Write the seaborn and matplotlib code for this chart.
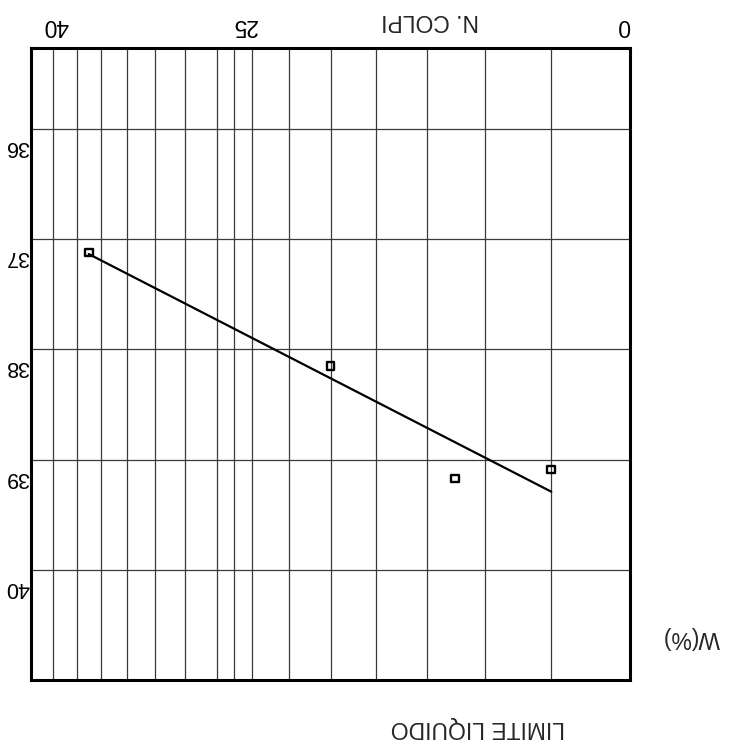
import numpy as np
import matplotlib
matplotlib.use('Agg')
import matplotlib.pyplot as plt
import matplotlib.transforms as mtransforms
from matplotlib.ticker import NullFormatter
import seaborn as sns

# prova limite liquido (Casagrande) - immagine capovolta come nell'originale
n_colpi = [35, 20, 15, 12]
w_perc = [37.12, 38.15, 39.17, 39.09]

# griglia ed etichette
x_grid = [12, 14, 16, 18, 20, 22, 24, 25, 26, 28, 30, 32, 34, 36, 38]
y_grid = [36, 37, 38, 39, 40]
x_tick_pos = [10.14, 24.4, 37.8]
x_tick_lab = ['0', '25', '40']
y_tick_lab = ['36', '37', '38', '39', '40']

sns.set_theme(style='white')
plt.rcParams['font.family'] = ['Liberation Sans', 'DejaVu Sans']

fig = plt.figure(figsize=(7.39, 7.53), dpi=100)
ax = fig.add_axes([0.042, 0.0969, 0.8106, 0.8387])

sns.regplot(x=n_colpi, y=w_perc, logx=True, ci=None, truncate=True, ax=ax,
            marker='s',
            scatter_kws=dict(s=30, facecolors='none', edgecolors='black',
                             linewidths=1.7, alpha=1, zorder=4),
            line_kws=dict(color='black', lw=1.6, zorder=3))

# assi invertiti (grafico ruotato di 180 gradi)
ax.set_xscale('log')
ax.set_xlim(40, 10)
ax.set_ylim(41, 35.27)
ax.set_xticks(x_grid, minor=True)
ax.xaxis.set_minor_formatter(NullFormatter())
ax.set_xticks(x_tick_pos, labels=x_tick_lab)
ax.set_yticks(y_grid, labels=y_tick_lab)
ax.xaxis.tick_top()
ax.set_xlabel('')
ax.set_ylabel('')

ax.tick_params(axis='both', which='both', length=0, colors='black')
ax.tick_params(axis='x', pad=8.5, labelsize=16.5, labelrotation=180)
ax.tick_params(axis='y', pad=1, labelsize=15.5, labelrotation=180)

ax.grid(False)
ax.grid(True, which='minor', axis='x', color='#3a3a3a', lw=0.9)
ax.grid(True, which='major', axis='y', color='#3a3a3a', lw=0.9)

for sp in ax.spines.values():
    sp.set_color('black')
    sp.set_linewidth(2.2)

# etichette y spostate sotto la linea
off = mtransforms.ScaledTranslation(0, -0.15, fig.dpi_scale_trans)
for lab in ax.get_yticklabels():
    lab.set_transform(lab.get_transform() + off)

fig.text(0.582, 0.9734, 'N. COLPI', rotation=180, ha='center', va='center', fontsize=16.5)
fig.text(0.6468, 0.0345, 'LIMITE LIQUIDO', rotation=180, ha='center', va='center', fontsize=16.5)
fig.text(0.935, 0.1534, 'W(%)', rotation=180, ha='center', va='center', fontsize=16.5)

fig.savefig('out.png', dpi=100)
plt.close()
